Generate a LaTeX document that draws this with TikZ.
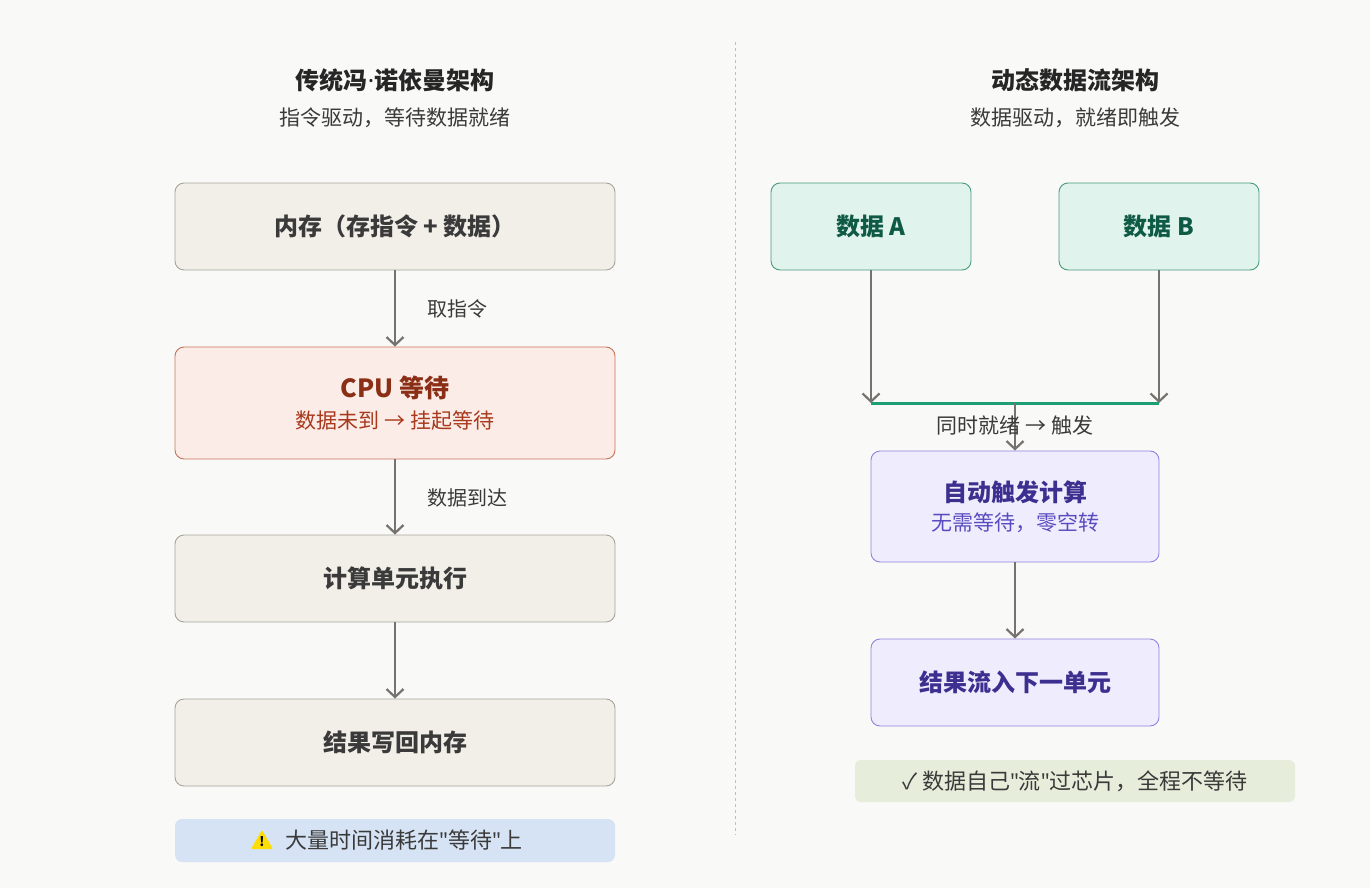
\documentclass[tikz,border=0pt]{standalone}
\usepackage{fontspec}
\setmainfont{Noto Sans CJK SC}
\newfontfamily\lat{Noto Sans}
\usetikzlibrary{arrows.meta}
\definecolor{bg}{HTML}{F9F9F7}
\definecolor{gfill}{HTML}{F2EFE9}\definecolor{gline}{HTML}{A8A49C}
\definecolor{rfill}{HTML}{FBECE7}\definecolor{rline}{HTML}{C8735A}
\definecolor{rtxt}{HTML}{8B2E16}\definecolor{rsub}{HTML}{A8391C}
\definecolor{tfill}{HTML}{E0F3EC}\definecolor{tline}{HTML}{4A9B7F}\definecolor{ttxt}{HTML}{0F5A45}
\definecolor{pfill}{HTML}{EEECFD}\definecolor{pline}{HTML}{8F85E0}
\definecolor{ptxt}{HTML}{3D2F8F}\definecolor{psub}{HTML}{5A4CC0}
\definecolor{wfill}{HTML}{D6E3F4}\definecolor{nfill}{HTML}{E6EEDB}
\definecolor{arr}{HTML}{76736E}\definecolor{txt}{HTML}{3A3A3A}\definecolor{green}{HTML}{1E9E74}
\tikzset{
 box/.style={draw, rounded corners=9pt, line width=0.9pt, inner sep=0pt},
 gbox/.style={box, fill=gfill, draw=gline, text=txt, font=\fontsize{24}{28}\selectfont\bfseries},
 flow/.style={draw=arr, line width=2.2pt, -{Straight Barb[length=8pt,width=17pt,line width=2.2pt]}},
 lab/.style={text=txt, font=\fontsize{20}{24}\selectfont, anchor=west},
}
\begin{document}
\begin{tikzpicture}[x=1pt,y=-1pt]
\fill[bg] (0,0) rectangle (1370,888);
\useasboundingbox (0,0) rectangle (1370,888);
\draw[gline!70, dashed, line width=1pt] (735,42) -- (735,835);
\node[font=\fontsize{24}{28}\selectfont\bfseries, text=black!85] (tl) at (395,80) {传统冯{\lat ·}诺依曼架构};
\node[font=\fontsize{21}{24}\selectfont, text=txt] (sl) at (395,118) {指令驱动，等待数据就绪};
\node[font=\fontsize{24}{28}\selectfont\bfseries, text=black!85] (tr) at (1075,80) {动态数据流架构};
\node[font=\fontsize{21}{24}\selectfont, text=txt] (sr) at (1075,118) {数据驱动，就绪即触发};
% left
\node[gbox, minimum width=440pt, minimum height=87pt] (m) at (395,226.5) {内存（存指令 + 数据）};
\node[box, fill=rfill, draw=rline, minimum width=440pt, minimum height=112pt, align=center] (c) at (395,403)
 {\textcolor{rtxt}{\fontsize{25}{30}\selectfont\bfseries CPU 等待}\\[10pt]\textcolor{rsub}{\fontsize{21}{24}\selectfont 数据未到 → 挂起等待}};
\node[gbox, minimum width=440pt, minimum height=87pt] (e) at (395,578.5) {计算单元执行};
\node[gbox, minimum width=440pt, minimum height=87pt] (w) at (395,742.5) {结果写回内存};
\node[box, draw=none, fill=wfill, rounded corners=7pt, minimum width=440pt, minimum height=43pt, text=txt, font=\fontsize{22}{24}\selectfont] (warn) at (395,840.5)
 {\hspace{18pt}大量时间消耗在{\lat"}等待{\lat"}上};
\fill[yellow!80!orange, rounded corners=1pt] (251,849) -- (273,849) -- (262,830) -- cycle;
\node[font=\fontsize{13}{13}\selectfont\bfseries, text=black] (wi) at (262,842) {!};
\draw[flow] (m) -- (c) node[midway, lab, xshift=28pt] (l1) {取指令};
\draw[flow] (c) -- (e) node[midway, lab, xshift=28pt, yshift=-1pt] (l2) {数据到达};
\draw[flow] (e) -- (w);
% right
\node[box, fill=tfill, draw=tline, text=ttxt, minimum width=200pt, minimum height=87pt, font=\fontsize{24}{28}\selectfont\bfseries] (a) at (871,226.5) {数据 A};
\node[box, fill=tfill, draw=tline, text=ttxt, minimum width=200pt, minimum height=87pt, font=\fontsize{24}{28}\selectfont\bfseries] (b) at (1159,226.5) {数据 B};
\coordinate (ja) at (871,403); \coordinate (jb) at (1159,403); \coordinate (jm) at (1015,403);
\node[box, fill=pfill, draw=pline, minimum width=288pt, minimum height=111pt, align=center] (t) at (1015,506.5)
 {\textcolor{ptxt}{\fontsize{24}{28}\selectfont\bfseries 自动触发计算}\\[8pt]\textcolor{psub}{\fontsize{21}{24}\selectfont 无需等待，零空转}};
\node[box, fill=pfill, draw=pline, text=ptxt, minimum width=288pt, minimum height=87pt, font=\fontsize{24}{28}\selectfont\bfseries] (r) at (1015,682.5) {结果流入下一单元};
\node[box, draw=none, fill=nfill, rounded corners=6pt, minimum width=440pt, minimum height=42pt, text=txt, font=\fontsize{22}{24}\selectfont] (note) at (1075,781) {✓ 数据自己{\lat"}流{\lat"}过芯片，全程不等待};
\draw[flow] (a.south) -- (ja);
\draw[flow] (b.south) -- (jb);
\draw[green, line width=3pt] (ja) -- (jb);
\draw[flow] (jm) -- (t.north);
\node[text=txt, font=\fontsize{21}{24}\selectfont] (jl) at (1015,426) {同时就绪 → 触发};
\draw[flow] (t) -- (r);
\end{tikzpicture}
\end{document}
